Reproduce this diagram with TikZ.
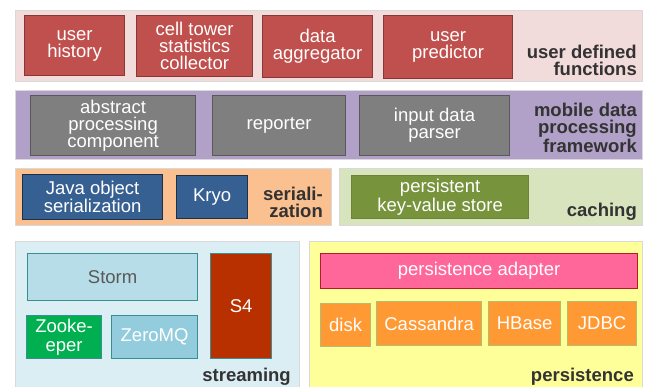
\documentclass[tikz,border=0pt]{standalone}
\usepackage{fontspec}
\setmainfont{Liberation Sans}
\usetikzlibrary{positioning}

\definecolor{udfband}{HTML}{F2DCDB}
\definecolor{udfbox}{HTML}{C0504D}
\definecolor{mdpband}{HTML}{B1A0C7}
\definecolor{mdpbox}{HTML}{7F7F7F}
\definecolor{serband}{HTML}{FAC090}
\definecolor{serbox}{HTML}{376092}
\definecolor{cacband}{HTML}{D7E4BD}
\definecolor{cacbox}{HTML}{77933C}
\definecolor{strband}{HTML}{DBEEF4}
\definecolor{stormbox}{HTML}{B7DDE8}
\definecolor{zkbox}{HTML}{00B050}
\definecolor{zmqbox}{HTML}{93CDDD}
\definecolor{sfourbox}{HTML}{B83000}
\definecolor{perband}{HTML}{FFFF99}
\definecolor{adbox}{HTML}{FF6699}
\definecolor{dbbox}{HTML}{FF9933}
\definecolor{labeltext}{HTML}{333333}

\tikzstyle{band}=[anchor=north west, inner sep=0pt, draw=black!15, line width=0.8pt]
\tikzstyle{unit}=[anchor=north west, inner sep=1pt, align=center, text=white, line width=1.2pt,
  font=\fontsize{18.5}{17}\selectfont]
\tikzstyle{bigunit}=[unit, font=\fontsize{18.5}{18.5}\selectfont]
\tikzstyle{layername}=[anchor=east, align=right, text=labeltext, inner sep=0pt,
  font=\bfseries\fontsize{18.5}{17}\selectfont]
\tikzstyle{biglayername}=[layername, font=\bfseries\fontsize{18.5}{18.5}\selectfont]

\begin{document}
\begin{tikzpicture}[x=1pt, y=-1pt]
\useasboundingbox (0,0) rectangle (649,387);

% user defined functions
\node[band, fill=udfband, minimum width=627, minimum height=71](udf) at (15,10) {};
\node[unit, fill=udfbox, draw=udfbox!70!black, minimum width=100, minimum height=60](history) at (24,15) {user\\history};
\node[unit, fill=udfbox, draw=udfbox!70!black, minimum width=116, minimum height=61](celltower) at (136,15) {cell tower\\statistics\\collector};
\node[unit, fill=udfbox, draw=udfbox!70!black, minimum width=110, minimum height=62](aggregator) at (262,15) {data\\aggregator};
\node[unit, fill=udfbox, draw=udfbox!70!black, minimum width=129, minimum height=63](predictor) at (383,15) {user\\predictor};
\node[layername](udflabel) at (637,60) {user defined\\functions};

% mobile data processing framework
\node[band, fill=mdpband, minimum width=627, minimum height=69](mdp) at (15,90) {};
\node[unit, fill=mdpbox, draw=black!65, minimum width=165, minimum height=60](abstract) at (30,95) {abstract\\processing\\component};
\node[unit, fill=mdpbox, draw=black!65, minimum width=133, minimum height=60](reporter) at (212,95) {reporter};
\node[unit, fill=mdpbox, draw=black!65, minimum width=150, minimum height=60](parser) at (359,95) {input data\\parser};
\node[layername](mdplabel) at (637,128) {mobile data\\processing\\framework};

% serialization
\node[band, fill=serband, minimum width=316, minimum height=57](ser) at (15,168) {};
\node[unit, fill=serbox, draw=serbox!50!black, minimum width=140, minimum height=45](javaser) at (22,174) {Java object\\serialization};
\node[unit, fill=serbox, draw=serbox!50!black, minimum width=71, minimum height=43](kryo) at (176,175) {Kryo};
\node[layername](serlabel) at (323,202) {seriali-\\zation};

% caching
\node[band, fill=cacband, minimum width=303, minimum height=57](cac) at (339,168) {};
\node[unit, fill=cacbox, draw=cacbox!90!black, minimum width=177, minimum height=43](kvstore) at (351,175) {persistent\\key-value store};
\node[layername](caclabel) at (637,212) {caching};

% streaming
\node[band, fill=strband, minimum width=284, minimum height=150](str) at (15,241) {};
\node[bigunit, fill=stormbox, draw=stormbox!50!cyan!60!black, text=black!65, minimum width=170, minimum height=47](storm) at (27,253) {Storm};
\node[bigunit, fill=zkbox, draw=stormbox!50!cyan!60!black, minimum width=75, minimum height=43](zookeeper) at (26,315) {Zooke-\\eper};
\node[bigunit, fill=zmqbox, draw=stormbox!50!cyan!60!black, minimum width=86, minimum height=43](zeromq) at (111,315) {ZeroMQ};
\node[bigunit, fill=sfourbox, draw=stormbox!50!cyan!60!black, minimum width=61, minimum height=105](sfour) at (210,253) {S4};
\node[biglayername](strlabel) at (291,377) {streaming};

% persistence
\node[band, fill=perband, minimum width=333, minimum height=150](per) at (309,241) {};
\node[bigunit, fill=adbox, draw=adbox!40!red!70!black, minimum width=317, minimum height=35](adapter) at (320,253) {persistence adapter};
\node[bigunit, fill=dbbox, draw=cacband!60!olive, minimum width=50, minimum height=43](disk) at (320,303) {disk};
\node[bigunit, fill=dbbox, draw=cacband!60!olive, minimum width=105, minimum height=44](cassandra) at (376,301) {Cassandra};
\node[bigunit, fill=dbbox, draw=cacband!60!olive, minimum width=72, minimum height=44](hbase) at (488,301) {HBase};
\node[bigunit, fill=dbbox, draw=cacband!60!olive, minimum width=69, minimum height=44](jdbc) at (567,301) {JDBC};
\node[biglayername](perlabel) at (634,377) {persistence};
\end{tikzpicture}
\end{document}
